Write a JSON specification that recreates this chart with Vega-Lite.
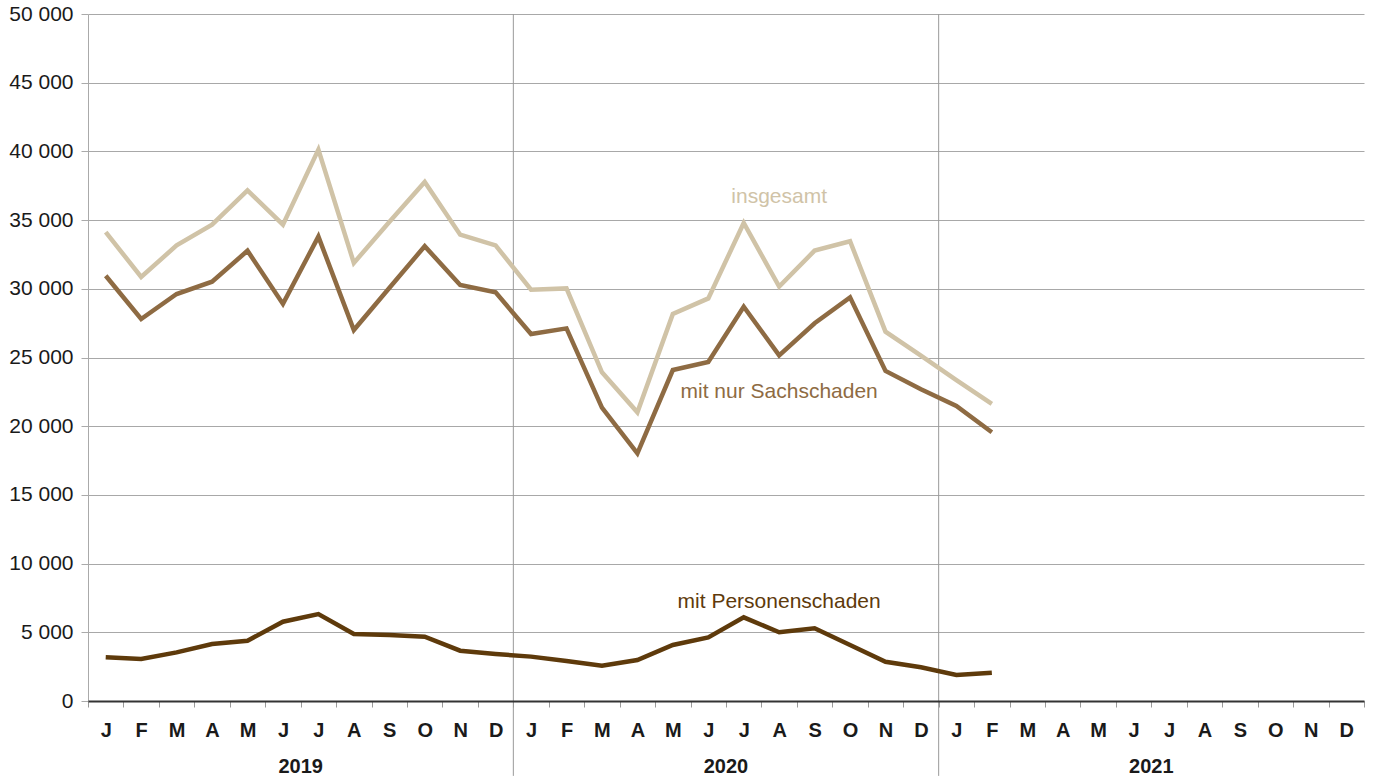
{
  "$schema": "https://vega.github.io/schema/vega-lite/v6.json",
  "width": 1276,
  "height": 687,
  "padding": {"left": 5, "top": 3, "right": 6, "bottom": 2},
  "background": "white",
  "config": {
    "font": "Liberation Sans",
    "view": {"stroke": null}
  },
  "encoding": {
    "x": {
      "field": "monat",
      "type": "ordinal",
      "scale": {
        "type": "band",
        "paddingInner": 0,
        "paddingOuter": 0,
        "domain": ["2019-01","2019-02","2019-03","2019-04","2019-05","2019-06","2019-07","2019-08","2019-09","2019-10","2019-11","2019-12",
                   "2020-01","2020-02","2020-03","2020-04","2020-05","2020-06","2020-07","2020-08","2020-09","2020-10","2020-11","2020-12",
                   "2021-01","2021-02","2021-03","2021-04","2021-05","2021-06","2021-07","2021-08","2021-09","2021-10","2021-11","2021-12"]
      },
      "axis": {
        "title": null,
        "orient": "bottom",
        "labelAngle": 0,
        "labelExpr": "substring('JFMAMJJASOND', toNumber(substring(datum.value, 5, 7)) - 1, toNumber(substring(datum.value, 5, 7)))",
        "labelFontWeight": "bold",
        "labelFontSize": 20,
        "labelColor": "#1a1a1a",
        "labelPadding": 13,
        "tickBand": "extent",
        "tickSize": 6,
        "tickColor": "#999999",
        "domainColor": "#333333",
        "domainWidth": 2,
        "grid": false,
        "zindex": 1
      }
    },
    "y": {
      "field": "wert",
      "type": "quantitative",
      "scale": {"domain": [0, 50000], "nice": false, "zero": false},
      "axis": {
        "title": null,
        "values": [0, 5000, 10000, 15000, 20000, 25000, 30000, 35000, 40000, 45000, 50000],
        "labelExpr": "replace(format(datum.value, ','), ',', ' ')",
        "labelFontSize": 21,
        "labelColor": "#1a1a1a",
        "labelPadding": 8,
        "tickSize": 7,
        "tickColor": "#aaaaaa",
        "domainColor": "#aaaaaa",
        "minExtent": 83,
        "maxExtent": 83,
        "grid": true,
        "gridColor": "#a8a8a8",
        "gridWidth": 1
      }
    }
  },
  "layer": [
    {
      "data": {"values": [{"monat": "2020-01", "wert": 50000, "bis": -5450}, {"monat": "2021-01", "wert": 50000, "bis": -5450}]},
      "mark": {"type": "rule", "color": "#999999", "strokeWidth": 1, "clip": false},
      "encoding": {
        "x": {"field": "monat", "type": "ordinal", "bandPosition": 0},
        "y2": {"field": "bis"}
      }
    },
    {
      "data": {
        "values": [
          {"monat": "2019-01", "insgesamt": 34130, "sachschaden": 30950, "personenschaden": 3180},
          {"monat": "2019-02", "insgesamt": 30860, "sachschaden": 27800, "personenschaden": 3060},
          {"monat": "2019-03", "insgesamt": 33160, "sachschaden": 29620, "personenschaden": 3540},
          {"monat": "2019-04", "insgesamt": 34670, "sachschaden": 30520, "personenschaden": 4150},
          {"monat": "2019-05", "insgesamt": 37160, "sachschaden": 32770, "personenschaden": 4390},
          {"monat": "2019-06", "insgesamt": 34670, "sachschaden": 28900, "personenschaden": 5770},
          {"monat": "2019-07", "insgesamt": 40130, "sachschaden": 33800, "personenschaden": 6330},
          {"monat": "2019-08", "insgesamt": 31880, "sachschaden": 27000, "personenschaden": 4880},
          {"monat": "2019-09", "insgesamt": 34860, "sachschaden": 30060, "personenschaden": 4800},
          {"monat": "2019-10", "insgesamt": 37780, "sachschaden": 33100, "personenschaden": 4680},
          {"monat": "2019-11", "insgesamt": 33940, "sachschaden": 30280, "personenschaden": 3660},
          {"monat": "2019-12", "insgesamt": 33160, "sachschaden": 29740, "personenschaden": 3420},
          {"monat": "2020-01", "insgesamt": 29940, "sachschaden": 26710, "personenschaden": 3230},
          {"monat": "2020-02", "insgesamt": 30030, "sachschaden": 27120, "personenschaden": 2910},
          {"monat": "2020-03", "insgesamt": 23920, "sachschaden": 21350, "personenschaden": 2570},
          {"monat": "2020-04", "insgesamt": 21010, "sachschaden": 18030, "personenschaden": 2980},
          {"monat": "2020-05", "insgesamt": 28170, "sachschaden": 24090, "personenschaden": 4080},
          {"monat": "2020-06", "insgesamt": 29300, "sachschaden": 24670, "personenschaden": 4630},
          {"monat": "2020-07", "insgesamt": 34790, "sachschaden": 28700, "personenschaden": 6090},
          {"monat": "2020-08", "insgesamt": 30160, "sachschaden": 25160, "personenschaden": 5000},
          {"monat": "2020-09", "insgesamt": 32780, "sachschaden": 27490, "personenschaden": 5290},
          {"monat": "2020-10", "insgesamt": 33460, "sachschaden": 29380, "personenschaden": 4080},
          {"monat": "2020-11", "insgesamt": 26880, "sachschaden": 24020, "personenschaden": 2860},
          {"monat": "2020-12", "insgesamt": 25140, "sachschaden": 22690, "personenschaden": 2450},
          {"monat": "2021-01", "insgesamt": 23360, "sachschaden": 21470, "personenschaden": 1890},
          {"monat": "2021-02", "insgesamt": 21620, "sachschaden": 19560, "personenschaden": 2060}
        ]
      },
      "transform": [
        {"fold": ["insgesamt", "sachschaden", "personenschaden"], "as": ["serie", "wert"]}
      ],
      "mark": {"type": "line", "strokeWidth": 4.5},
      "encoding": {
        "color": {
          "field": "serie",
          "type": "nominal",
          "scale": {
            "domain": ["insgesamt", "sachschaden", "personenschaden"],
            "range": ["#d0c3a7", "#8e6b43", "#5e3a0b"]
          },
          "legend": null
        }
      }
    },
    {
      "data": {
        "values": [
          {"label": "insgesamt", "serie": "insgesamt", "monat": "2020-08", "wert": 36700},
          {"label": "mit nur Sachschaden", "serie": "sachschaden", "monat": "2020-08", "wert": 22500},
          {"label": "mit Personenschaden", "serie": "personenschaden", "monat": "2020-08", "wert": 7230}
        ]
      },
      "mark": {"type": "text", "fontSize": 21, "align": "center", "baseline": "middle"},
      "encoding": {
        "text": {"field": "label"},
        "color": {"field": "serie", "type": "nominal", "legend": null}
      }
    },
    {
      "data": {
        "values": [
          {"label": "2019", "monat": "2019-07", "wert": -4820},
          {"label": "2020", "monat": "2020-07", "wert": -4820},
          {"label": "2021", "monat": "2021-07", "wert": -4820}
        ]
      },
      "mark": {"type": "text", "fontSize": 20, "fontWeight": "bold", "color": "#1a1a1a", "align": "center", "baseline": "middle", "clip": false},
      "encoding": {
        "x": {"field": "monat", "type": "ordinal", "bandPosition": 0},
        "text": {"field": "label"}
      }
    }
  ]
}
